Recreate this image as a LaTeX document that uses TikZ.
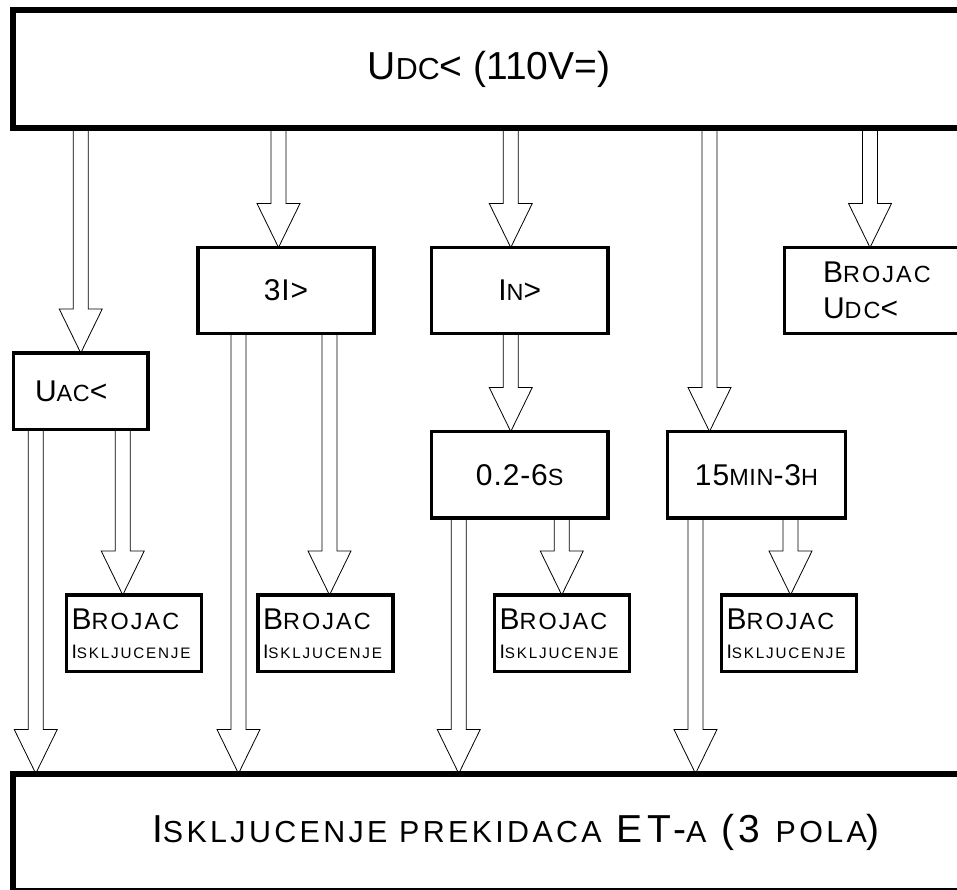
\documentclass[tikz,border=0pt]{standalone}
\usepackage{fontspec}
\setmainfont{Liberation Sans}
\usetikzlibrary{calc}
\makeatletter
\newcommand\lc[1]{{\fontsize{\fpeval{0.78*\f@size}}{\f@baselineskip}\selectfont\MakeUppercase{#1}}}
\makeatother
\begin{document}
\begin{tikzpicture}[x=1pt,y=-1pt,
  bigbox/.style={draw,line width=6pt,anchor=north west,outer sep=0pt,inner sep=0pt,font=\fontsize{39}{47}\selectfont},
  box/.style={draw,line width=3.5pt,anchor=north west,outer sep=0pt,inner sep=0pt,font=\fontsize{30}{36}\selectfont\addfontfeature{LetterSpace=3}},
  cnt/.style={box,align=left,minimum width=135pt,minimum height=76.5pt,font=\fontsize{30}{29}\selectfont\addfontfeature{LetterSpace=9}},
  hollow/.style={line width=0.8pt,to path={let \p1=(\tikztostart),\p2=(\tikztotarget) in
    (\x1-7.5pt,\y1)--(\x1-7.5pt,\y2+44pt)--(\x1-21.5pt,\y2+44pt)--(\x1,\y2)
    --(\x1+21.5pt,\y2+44pt)--(\x1+7.5pt,\y2+44pt)--(\x1+7.5pt,\y1)}}]
\useasboundingbox (0,0) rectangle (957,890);
\clip (0,0) rectangle (957,890);
% supply and protections
\node[bigbox,minimum width=952pt,minimum height=118.5pt] (top) at (13,10) {U\lc{dc}< (110V=)};
\node[box,minimum width=134.5pt,minimum height=76.5pt,text width=91.5pt,inner xsep=21.5pt,align=left] (uac) at (13.5,353) {U\lc{ac}<};
\node[box,minimum width=176pt,minimum height=86pt] (trip) at (198,247.5) {3I>};
\node[box,minimum width=176.5pt,minimum height=86pt] (inn) at (431.5,247.5) {I\lc{n}>};
\node[box,minimum width=215.5pt,minimum height=86pt,text width=138.5pt,inner xsep=38.5pt,align=left,
  font=\fontsize{30}{36}\selectfont\addfontfeature{LetterSpace=9}] (udc) at (784.5,247.5) {B\lc{rojac}\\U\lc{dc}<};
\node[box,minimum width=176.5pt,minimum height=86.5pt] (dly) at (431.5,431.5) {0.2-6\lc{s}};
\node[box,minimum width=178pt,minimum height=86.5pt] (rst) at (667.5,431.5) {15\lc{min}-3\lc{h}};
% counters
\foreach \n/\x in {b1/66.5,b2/258,b3/494.5,b4/721.5}
  \node[cnt,text width=125pt,inner xsep=5pt] (\n) at (\x,595) {B\lc{rojac}\\{\fontsize{19.5}{29}\selectfont\addfontfeature{LetterSpace=12}I\lc{skljucenje}}};
\node[bigbox,minimum width=1007pt,minimum height=117.5pt,font=\fontsize{39}{47}\selectfont\addfontfeature{LetterSpace=11}] (brk) at (12.5,773.5)
  {I\lc{skljucenje prekidaca} ET-\lc{a} (3 \lc{pola})};
% arrows
\draw[hollow] (top.south -| uac.north) to (uac.north);
\draw[hollow] ([xshift=-7.5pt]top.south -| trip.north) to (trip.north);
\draw[hollow] ([xshift=-9pt]top.south -| inn.north) to (inn.north);
\draw[hollow] ([xshift=-47pt]top.south -| rst.north) to (rst.north);
\draw[hollow] ([xshift=85.5pt]top.south -| udc.north west) to (udc.north);
\draw[hollow] ([xshift=-9pt]inn.south) to (dly.north);
\foreach \s/\d/\t in {uac/-45/brk,uac/42/b1,trip/-47.5/brk,trip/43.5/b2,dly/-61/brk,dly/42/b3,rst/-61/brk,rst/34/b4}
  \draw[hollow] ([xshift=\d pt]\s.south) to (\t.north);
\end{tikzpicture}
\end{document}
